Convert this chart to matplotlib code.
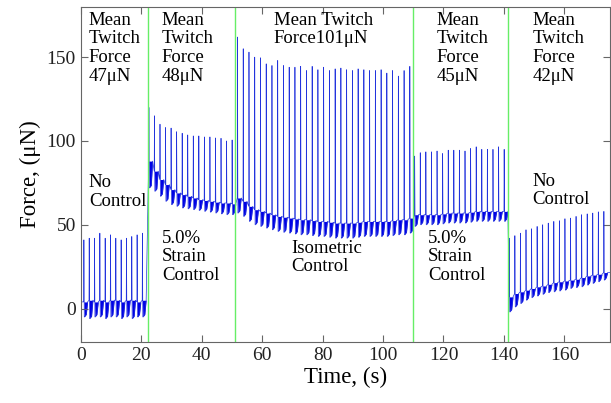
import numpy as np
import matplotlib
matplotlib.use("Agg")
import matplotlib.pyplot as plt

plt.rcParams['font.family'] = ['Liberation Serif', 'DejaVu Serif']

# protocol boundaries (s)
boundaries = [22.3, 51.2, 109.8, 141.4]

# each segment: time of first twitch, twitch period, peak / trough / rest force (uN)
seg1_first, seg1_period = 1.0, 1.76
seg1_peaks = [41, 42, 42, 45, 42, 44, 42, 41, 42, 43, 44, 45]
seg1_troughs = [-5, -6, -5, -5, -6, -5, -5, -6, -5, -6, -5, -5]
seg1_rests = [4, 5, 4, 5, 4, 5, 5, 4, 5, 5, 4, 5]

seg2_first, seg2_period = 22.5, 1.835
seg2_peaks = [120, 115, 110, 108, 107.7, 105.5, 104.6, 103.6, 103, 103, 102.4, 102.4,
              101.8, 101.6, 100, 100.6]
seg2_troughs = [72, 70, 67, 64, 62, 61, 60, 59.5, 59, 58.5, 58, 57.5, 57, 56.5, 56, 56]
seg2_rests = [88, 82, 77, 74, 71, 69, 68, 67, 66, 65, 64.5, 64, 63.5, 63, 63, 62.5]

seg3_first, seg3_period = 51.8, 1.9
seg3_peaks = [162, 155, 153, 150, 149.6, 146, 145, 148, 145, 144, 144, 144.5, 142, 144.5,
              142.5, 144, 142, 143, 143.5, 142.5, 142, 143, 142.5, 142, 142, 142.5, 140.5,
              142, 138.7, 142, 144.5]
seg3_troughs = [57, 55, 52, 50, 49, 48, 47, 46, 45.5, 45, 44.5, 44, 44, 43.5, 43, 43, 42.5,
                42, 42, 42, 42, 42.5, 43, 43, 43, 43, 43, 43.5, 44, 44, 45]
seg3_rests = [66, 64, 61, 59, 58, 57, 56, 55, 54.5, 54, 53.5, 53, 53, 52.5, 52, 52, 51.5,
              51, 51, 51, 51, 51.5, 52, 52, 52, 52, 52, 52.5, 53, 53, 54]

seg4_first, seg4_period = 110.4, 1.85
seg4_peaks = [91, 93, 93.5, 93.5, 94, 92.5, 94.5, 94.5, 94.5, 94, 95.5, 96.5, 95, 95, 95,
              96.5, 95]
seg4_troughs = [49, 50, 50, 50, 50, 50.5, 51, 51, 51, 51, 51.5, 52, 52, 52, 52, 52, 52]
seg4_rests = [56, 56, 56, 56, 56, 56.5, 57, 57, 57, 57, 57.5, 58, 58, 58, 58, 58, 58]

seg5_first, seg5_period = 141.7, 1.84
seg5_peaks = [42, 43.5, 45, 47, 47.6, 49, 50, 51, 52, 52.4, 53.6, 54, 55, 56, 56.5, 57,
              57.7, 58]
seg5_troughs = [-2, 1, 3, 5, 6.5, 7.5, 8.5, 9.5, 10, 10.5, 11, 12, 12.5, 13, 14, 15, 16, 17]
seg5_rests = [7, 9, 10, 11, 12, 13, 13.5, 14.5, 15.5, 16, 16.5, 17, 17.5, 18.5, 19.5, 20, 20.5, 21.5]

labels_top = ["Mean\nTwitch\nForce\n47\u03bcN", "Mean\nTwitch\nForce\n48\u03bcN",
              "Mean Twitch\nForce101\u03bcN", "Mean\nTwitch\nForce\n45\u03bcN",
              "Mean\nTwitch\nForce\n42\u03bcN"]
labels_mode = ["No\nControl", "5.0%\nStrain\nControl", "Isometric\nControl",
               "5.0%\nStrain\nControl", "No\nControl"]

segments = [
    (seg1_first, seg1_period, seg1_peaks, seg1_troughs, seg1_rests),
    (seg2_first, seg2_period, seg2_peaks, seg2_troughs, seg2_rests),
    (seg3_first, seg3_period, seg3_peaks, seg3_troughs, seg3_rests),
    (seg4_first, seg4_period, seg4_peaks, seg4_troughs, seg4_rests),
    (seg5_first, seg5_period, seg5_peaks, seg5_troughs, seg5_rests),
]

# build the trace: rest -> peak -> trough, hold, back to rest for each twitch
t, f, top = [0.0], [seg1_rests[0]], [seg1_rests[0]]
for first, period, peaks, troughs, rests in segments:
    for i in range(len(peaks)):
        ti = first + period * i
        r, m = rests[i], troughs[i]
        pts = [(0, r), (0.07, peaks[i]), (0.2, m), (0.85, m + 1.5), (1.3, r)]
        for dt, v in pts:
            t.append(ti + dt)
            f.append(v)
            top.append(r)
t.append(175)
f.append(seg5_rests[-1])
top.append(seg5_rests[-1])
t, f, top = np.array(t), np.array(f), np.array(top)

fig = plt.figure(figsize=(6.11, 4.03), dpi=100)
ax = fig.add_axes([0.132, 0.151, 0.866, 0.832])

ax.fill_between(t, np.minimum(f, top), top, color='#0000e6', lw=0)
ax.plot(t, f, color='#2233dd', lw=0.5)

for b in boundaries:
    ax.axvline(b, color='#66ee66', lw=1)

ax.set_xlim(0, 175)
ax.set_ylim(-20, 180)
ax.set_xticks(range(0, 161, 20))
ax.set_yticks([0, 50, 100, 150])
ax.tick_params(direction='in', top=True, right=True, length=5, labelsize=14,
               color='#666666', labelcolor='#222222')
for s in ax.spines.values():
    s.set_color('#666666')
    s.set_linewidth(0.8)

ax.set_xlabel("Time, (s)", fontsize=16.5, labelpad=2)
ax.set_ylabel("Force, (\u03bcN)", fontsize=16.5, labelpad=4)

fs = 13.5
top_x = [2.7, 26.7, 63.9, 117.6, 149.5]
for x, s in zip(top_x, labels_top):
    ax.text(x, 177, s, fontsize=fs, va='top', ha='left', linespacing=1.12)
mode_xy = [(2.7, 80), (26.9, 47), (69.6, 41), (114.8, 47), (149.5, 81)]
for (x, y), s in zip(mode_xy, labels_mode):
    ax.text(x, y, s, fontsize=fs, va='top', ha='left', linespacing=1.12)

fig.savefig("out.png", dpi=100)
